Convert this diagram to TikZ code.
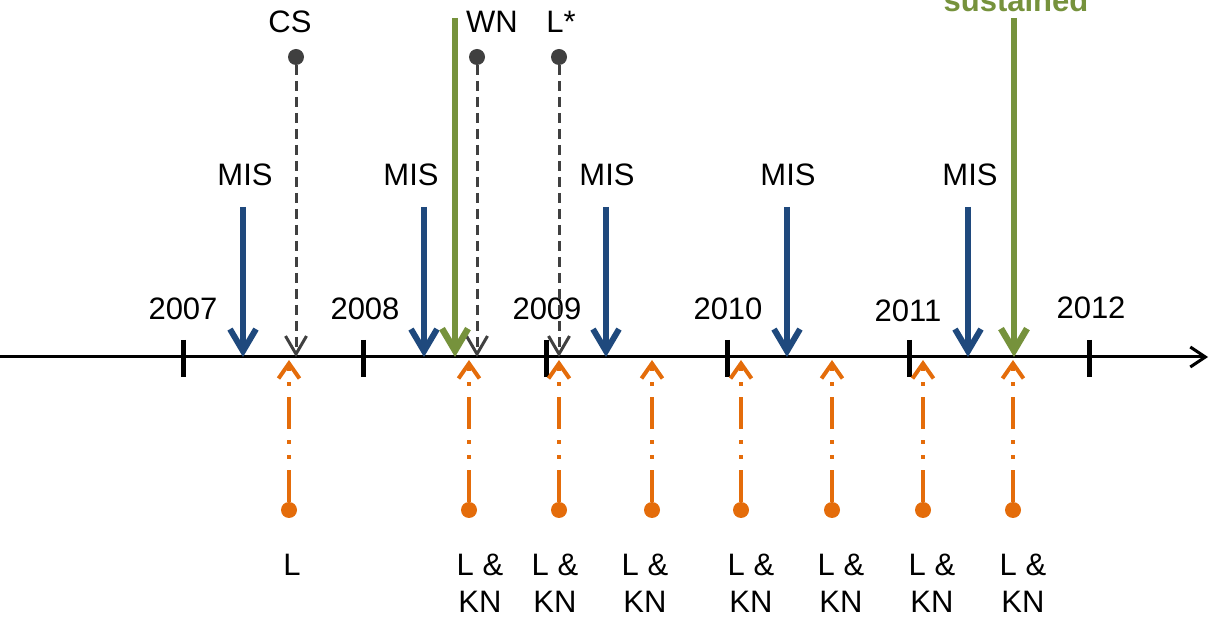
\documentclass[tikz,border=0pt]{standalone}
\usepackage{fontspec}
\setmainfont{Liberation Sans}
\usetikzlibrary{arrows.meta}
\definecolor{misblue}{RGB}{31,73,125}
\definecolor{sgreen}{RGB}{118,146,60}
\definecolor{dgray}{RGB}{64,64,64}
\definecolor{lorange}{RGB}{228,108,10}
\begin{document}
\begin{tikzpicture}[x=1pt,y=-1pt,
  every node/.style={inner sep=0pt, outer sep=0pt},
  lbl/.style={anchor=base, font=\fontsize{31}{37}\selectfont, align=center},
  axisline/.style={line width=3pt, -{Straight Barb[length=15pt,width=20pt]}},
  tickmark/.style={line width=5pt},
  misarrow/.style={draw=misblue, line width=6pt, -{Straight Barb[length=22pt,width=26pt]}},
  greenarrow/.style={draw=sgreen, line width=6.5pt, -{Straight Barb[length=22pt,width=26pt]}},
  grayarrow/.style={draw=dgray, line width=3pt, dash pattern=on 10.5pt off 5.5pt, -{Straight Barb[length=18pt,width=21pt]}},
  orangearrow/.style={draw=lorange, line width=4pt, dash pattern=on 32pt off 11pt on 4pt off 11pt on 4pt off 11pt, -{Straight Barb[length=15pt,width=21pt]}},
  gdot/.style={circle, fill=dgray, minimum size=16pt},
  odot/.style={circle, fill=lorange, minimum size=16pt},
]
\useasboundingbox (0,0) rectangle (1211,617);

% axis
\coordinate (a0) at (0,357);
\coordinate (a1) at (1208,357);
\draw[axisline] (a0) -- (a1);

% ticks
\foreach \x/\n in {183/t7,363/t8,546/t9,727/t10,909/t11,1089/t12}{
  \coordinate (\n u) at (\x,340);
  \coordinate (\n d) at (\x,377);
  \draw[tickmark] (\n u) -- (\n d);
}

% year labels
\node[lbl] (y2007) at (183,320) {2007};
\node[lbl] (y2008) at (365,320) {2008};
\node[lbl] (y2009) at (547,320) {2009};
\node[lbl] (y2010) at (728,320) {2010};
\node[lbl] (y2011) at (908,322) {2011};
\node[lbl] (y2012) at (1091,319) {2012};

% MIS labels and arrows
\foreach \lx/\ax/\n in {245/243/m1,411/424/m2,607/606/m3,788/787/m4,970/968/m5}{
  \node[lbl] (\n l) at (\lx,186) {MIS};
  \coordinate (\n s) at (\ax,207);
  \coordinate (\n e) at (\ax,357);
  \draw[misarrow] (\n s) -- (\n e);
}

% gray dashed events
\node[lbl] (csl) at (290,33) {CS};
\node[lbl] (wnl) at (492,33) {WN};
\node[lbl] (lsl) at (561,33) {L*};
\foreach \x/\n in {296/cs,477/wn,559/ls}{
  \node[gdot] (\n d) at (\x,57) {};
  \coordinate (\n e) at (\x,357);
  \draw[grayarrow] (\n d) -- (\n e);
}

% orange events
\foreach \x/\n in {289/o1,469/o2,559/o3,652/o4,741/o5,832/o6,923/o7,1013/o8}{
  \node[odot] (\n d) at (\x,510) {};
  \coordinate (\n e) at (\x,360);
  \draw[orangearrow] (\n d) -- (\n e);
}
\node[lbl] (o1l) at (292,575) {L};
\foreach \x/\n in {480/o2,555/o3,645/o4,751/o5,841/o6,932/o7,1023/o8}{
  \node[lbl] (\n l) at (\x,612) {L \&\\KN};
}

% green sustained arrows
\node[lbl, font=\fontsize{31}{37}\selectfont\bfseries, text=sgreen] (sus) at (1016,12) {sustained};
\foreach \x/\n in {455/g1,1014/g2}{
  \coordinate (\n s) at (\x,18);
  \coordinate (\n e) at (\x,357);
  \draw[greenarrow] (\n s) -- (\n e);
}
\end{tikzpicture}
\end{document}
